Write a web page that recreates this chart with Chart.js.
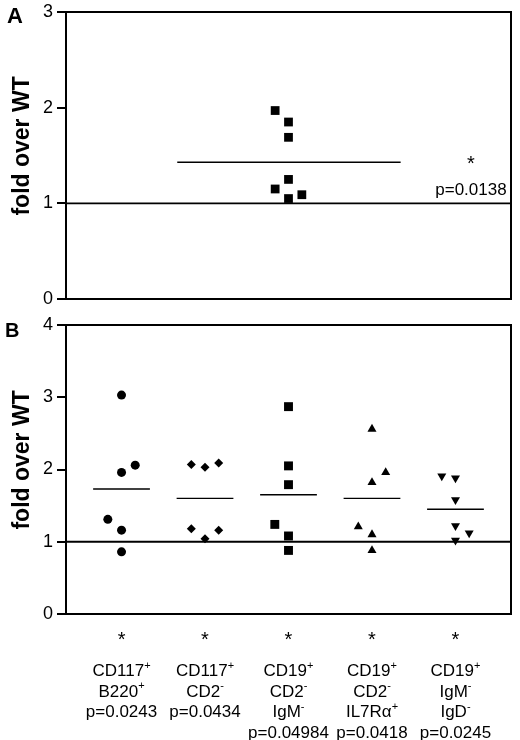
<!DOCTYPE html>
<html>
<head>
<meta charset="utf-8">
<script src="https://cdn.jsdelivr.net/npm/chart.js@4.4.0/dist/chart.umd.min.js"></script>
<style>
  body { margin: 0; background: #fff; }
  #wrap { position: relative; width: 520px; height: 740px; }
  canvas { position: absolute; left: 0; }
</style>
</head>
<body>
<div id="wrap">
  <canvas id="chartA" width="520" height="313" style="top:0"></canvas>
  <canvas id="chartB" width="520" height="427" style="top:313px"></canvas>
</div>
<script>
const FONT = "Arial, 'Liberation Sans', Helvetica, sans-serif";

// panel A - one population
let aX = [0.47, 0.5, 0.5, 0.5, 0.47, 0.5, 0.53];
let aY = [1.97, 1.85, 1.69, 1.25, 1.15, 1.05, 1.09];
let aMean = 1.43;
let aNote = ['*', 'p=0.0138'];
let aTicks = [0, 1, 2, 3];

// panel B - five populations (jitter = sideways nudge of a point inside its column)
let bLabels = [
    ['CD117^+', 'B220^+', 'p=0.0243'],
    ['CD117^+', 'CD2^-', 'p=0.0434'],
    ['CD19^+', 'CD2^-', 'IgM^-', 'p=0.04984'],
    ['CD19^+', 'CD2^-', 'IL7R\u03b1^+', 'p=0.0418'],
    ['CD19^+', 'IgM^-', 'IgD^-', 'p=0.0245']
];
let bStars = ['*', '*', '*', '*', '*'];
let bCircles = [3.03, 1.96, 2.06, 1.31, 1.16, 0.86];
let bCirclesJitter = [0, 0, 1, -1, 0, 0];
let bDiamonds = [2.07, 2.03, 2.09, 1.18, 1.04, 1.16];
let bDiamondsJitter = [-1, 0, 1, -1, 0, 1];
let bSquares = [2.87, 2.05, 1.79, 1.24, 1.08, 0.88];
let bSquaresJitter = [0, 0, 0, -1, 0, 0];
let bTriangles = [2.56, 1.96, 1.82, 1.21, 1.10, 0.88];
let bTrianglesJitter = [0, 1, 0, -1, 0, 0];
let bDownTriangles = [1.91, 1.88, 1.58, 1.22, 1.12, 1.02];
let bDownTrianglesJitter = [-1, 0, 0, 0, 1, 0];
let bMeans = [1.73, 1.60, 1.65, 1.60, 1.45];
let bTicks = [0, 1, 2, 3, 4];

let jitterStep = 0.164;
let meanHalfWidth = 0.34;

function toPoints(xs, ys) {
    return ys.map(function (y, i) { return { x: xs[i], y: y }; });
}

function columnPoints(col, values, jitter) {
    return values.map(function (y, i) { return { x: col + jitter[i] * jitterStep, y: y }; });
}

function markDataset(data, style, radius, rotation) {
    return {
        data: data,
        pointStyle: style,
        pointRadius: radius,
        pointRotation: rotation || 0,
        pointBackgroundColor: '#000',
        pointBorderColor: '#000',
        pointBorderWidth: 0,
        showLine: false
    };
}

function lineDataset(x1, x2, y, width) {
    return {
        data: [{ x: x1, y: y }, { x: x2, y: y }],
        showLine: true,
        borderColor: '#000',
        borderWidth: width,
        pointRadius: 0
    };
}

// draws "CD117^+" style text, the char after ^ is a superscript
function drawRich(ctx, text, cx, y, size) {
    let parts = [];
    for (let i = 0; i < text.length; i++) {
        if (text[i] === '^') {
            parts.push({ t: text[i + 1], sup: true });
            i++;
        } else if (parts.length && !parts[parts.length - 1].sup) {
            parts[parts.length - 1].t += text[i];
        } else {
            parts.push({ t: text[i], sup: false });
        }
    }
    let supSize = Math.round(size * 0.62);
    let total = 0;
    parts.forEach(function (p) {
        ctx.font = (p.sup ? supSize : size) + 'px ' + FONT;
        p.w = ctx.measureText(p.t).width;
        total += p.w;
    });
    let x = cx - total / 2;
    ctx.textAlign = 'left';
    ctx.textBaseline = 'alphabetic';
    parts.forEach(function (p) {
        ctx.font = (p.sup ? supSize : size) + 'px ' + FONT;
        ctx.fillText(p.t, x, p.sup ? y - size * 0.42 : y);
        x += p.w;
    });
}

const framePlugin = {
    id: 'frame',
    afterDatasetsDraw(chart) {
        let a = chart.chartArea;
        let ctx = chart.ctx;
        ctx.save();
        ctx.strokeStyle = '#000';
        ctx.lineWidth = 2;
        ctx.strokeRect(a.left, a.top, a.right - a.left, a.bottom - a.top);
        ctx.restore();
    }
};

function panelLetter(letter, x, y, size) {
    return {
        id: 'letter' + letter,
        afterDraw(chart) {
            let ctx = chart.ctx;
            ctx.save();
            ctx.fillStyle = '#000';
            ctx.font = 'bold ' + size + 'px ' + FONT;
            ctx.textAlign = 'left';
            ctx.textBaseline = 'alphabetic';
            ctx.fillText(letter, x, y);
            ctx.restore();
        }
    };
}

function yScale(max, ticks) {
    return {
        min: 0,
        max: max,
        afterBuildTicks: function (scale) {
            scale.ticks = ticks.map(function (v) { return { value: v }; });
        },
        afterFit: function (scale) {
            scale.width = 66;
            scale.paddingTop = 0;
            scale.paddingBottom = 0;
        },
        border: { display: true, color: '#000', width: 2 },
        grid: { drawOnChartArea: false, drawTicks: true, tickLength: 9, color: '#000', lineWidth: 2 },
        ticks: { color: '#000', padding: 4, font: { family: FONT, size: 18 } },
        title: {
            display: true,
            text: '   fold over WT',
            color: '#000',
            font: { family: FONT, size: 23, weight: 'bold' },
            padding: { top: 9, bottom: 0 }
        }
    };
}

const common = {
    responsive: false,
    animation: false,
    events: [],
    plugins: { legend: { display: false }, tooltip: { enabled: false } }
};

// ---------- panel A ----------
const notePlugin = {
    id: 'noteA',
    afterDraw(chart) {
        let ctx = chart.ctx;
        let x = chart.scales.x.getPixelForValue(0.91);
        ctx.save();
        ctx.fillStyle = '#000';
        ctx.textAlign = 'center';
        ctx.textBaseline = 'alphabetic';
        ctx.font = '20px ' + FONT;
        ctx.fillText(aNote[0], x, chart.scales.y.getPixelForValue(1.46) + 11);
        ctx.font = '17px ' + FONT;
        ctx.fillText(aNote[1], x, chart.scales.y.getPixelForValue(1.09));
        ctx.restore();
    }
};

new Chart(document.getElementById('chartA'), {
    type: 'scatter',
    data: {
        datasets: [
            markDataset(toPoints(aX, aY), 'rect', 6.2),
            lineDataset(0.25, 0.752, aMean, 1.4),
            lineDataset(0, 1, 1, 1.8)
        ]
    },
    options: Object.assign({}, common, {
        layout: { padding: { left: 0, top: 12, right: 9, bottom: 14 } },
        scales: {
            x: { type: 'linear', min: 0, max: 1, display: false },
            y: yScale(3, aTicks)
        }
    }),
    plugins: [framePlugin, notePlugin, panelLetter('A', 7, 23, 22)]
});

// ---------- panel B ----------
const categoryPlugin = {
    id: 'categoriesB',
    afterDraw(chart) {
        let ctx = chart.ctx;
        let bottom = chart.chartArea.bottom;
        ctx.save();
        ctx.fillStyle = '#000';
        bLabels.forEach(function (lines, i) {
            let x = chart.scales.x.getPixelForValue(i + 1);
            ctx.font = '20px ' + FONT;
            ctx.textAlign = 'center';
            ctx.textBaseline = 'alphabetic';
            ctx.fillText(bStars[i], x, bottom + 32);
            lines.forEach(function (line, j) {
                drawRich(ctx, line, x, bottom + 62 + j * 20.5, 17);
            });
        });
        ctx.restore();
    }
};

let bDatasets = [
    markDataset(columnPoints(1, bCircles, bCirclesJitter), 'circle', 4.5),
    markDataset(columnPoints(2, bDiamonds, bDiamondsJitter), 'rectRot', 4.5),
    markDataset(columnPoints(3, bSquares, bSquaresJitter), 'rect', 6.3),
    markDataset(columnPoints(4, bTriangles, bTrianglesJitter), 'triangle', 5.2),
    markDataset(columnPoints(5, bDownTriangles, bDownTrianglesJitter), 'triangle', 5.2, 180)
];
bMeans.forEach(function (m, i) {
    bDatasets.push(lineDataset(i + 1 - meanHalfWidth, i + 1 + meanHalfWidth, m, 1.4));
});
bDatasets.push(lineDataset(0.335, 5.665, 1, 1.8));

new Chart(document.getElementById('chartB'), {
    type: 'scatter',
    data: { datasets: bDatasets },
    options: Object.assign({}, common, {
        layout: { padding: { left: 0, top: 12, right: 9, bottom: 126 } },
        scales: {
            x: { type: 'linear', min: 0.335, max: 5.665, display: false },
            y: yScale(4, bTicks)
        }
    }),
    plugins: [framePlugin, categoryPlugin, panelLetter('B', 5, 24, 20)]
});
</script>
</body>
</html>
